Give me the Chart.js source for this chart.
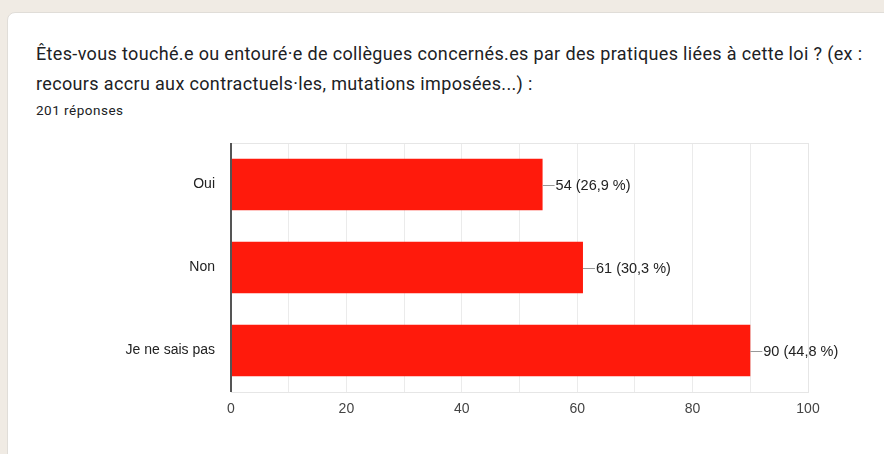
<!DOCTYPE html>
<html>
<head>
<meta charset="utf-8">
<script src="https://cdn.jsdelivr.net/npm/chart.js@4"></script>
<style>
  html, body { margin: 0; padding: 0; }
  body { width: 884px; height: 454px; background: #f0ebe4; position: relative; overflow: hidden; }
  .card {
    position: absolute; left: 7px; top: 12px; width: 900px; height: 460px;
    background: #fff; border: 1px solid #e0ddd8; border-radius: 8px; box-sizing: border-box;
  }
  .title {
    position: absolute; left: 36px; top: 39px; width: 870px;
    font-family: Roboto, Arial, sans-serif; font-size: 18px; line-height: 30px;
    letter-spacing: 0.35px; color: #202124;
  }
  .count {
    position: absolute; left: 36px; top: 102px;
    font-family: Roboto, Arial, sans-serif; font-size: 13.5px; line-height: 16px;
    letter-spacing: 0.5px; color: #202124;
  }
  #chart { position: absolute; left: 0; top: 0; }
</style>
</head>
<body>
<div class="card"></div>
<div class="title">Êtes-vous touché.e ou entouré·e de collègues concernés.es par des pratiques liées à cette loi ? (ex :<br>recours accru aux contractuels·les, mutations imposées...) :</div>
<div class="count">201 réponses</div>
<canvas id="chart" width="884" height="454"></canvas>
<script>
// ─── DATA ───
const categories = ['Oui', 'Non', 'Je ne sais pas'];
const counts = [54, 61, 90];
const percents = ['26,9', '30,3', '44,8'];
const xTicks = [0, 20, 40, 60, 80, 100];

// frame + left axis line + value labels with leader lines
const framePlugin = {
    id: 'frame',
    beforeDatasetsDraw(chart) {
        const { ctx, chartArea: a } = chart;
        ctx.save();
        ctx.strokeStyle = '#e6e6e6';
        ctx.lineWidth = 1;
        ctx.strokeRect(a.left + 0.5, a.top + 0.5, a.right - a.left, a.bottom - a.top);
        ctx.restore();
    },
    afterDatasetsDraw(chart) {
        const { ctx, chartArea: a } = chart;
        ctx.save();
        ctx.strokeStyle = '#555';
        ctx.lineWidth = 2;
        ctx.beginPath();
        ctx.moveTo(a.left, a.top);
        ctx.lineTo(a.left, a.bottom);
        ctx.stroke();

        const meta = chart.getDatasetMeta(0);
        ctx.font = '14.5px "Liberation Sans", Arial, sans-serif';
        ctx.fillStyle = '#222';
        ctx.textAlign = 'left';
        ctx.textBaseline = 'middle';
        meta.data.forEach((bar, i) => {
            ctx.strokeStyle = '#999';
            ctx.lineWidth = 1;
            ctx.beginPath();
            ctx.moveTo(bar.x, Math.round(bar.y) + 0.5);
            ctx.lineTo(bar.x + 12, Math.round(bar.y) + 0.5);
            ctx.stroke();
            ctx.fillText(counts[i] + ' (' + percents[i] + ' %)', bar.x + 13, bar.y + 1);
        });
        ctx.restore();
    }
};

new Chart(document.getElementById('chart'), {
    type: 'bar',
    data: {
        labels: categories,
        datasets: [{
            data: counts,
            backgroundColor: '#ff1a0c',
            borderWidth: 0,
            barPercentage: 0.62,
            categoryPercentage: 1
        }]
    },
    options: {
        indexAxis: 'y',
        responsive: false,
        animation: false,
        layout: { padding: { top: 143, right: 76, left: 0, bottom: 0 } },
        plugins: { legend: { display: false }, tooltip: { enabled: false } },
        scales: {
            x: {
                min: 0, max: 100,
                border: { display: false },
                grid: { color: '#ebebeb', drawTicks: false },
                ticks: {
                    stepSize: 10, autoSkip: false, padding: 9, color: '#444',
                    font: { family: '"Liberation Sans", Arial, sans-serif', size: 14 },
                    callback: v => xTicks.includes(v) ? v : ''
                },
                afterFit: s => { s.height = 62; }
            },
            y: {
                border: { display: false },
                grid: { display: false, drawTicks: false },
                ticks: {
                    padding: 16, color: '#222',
                    font: { family: '"Liberation Sans", Arial, sans-serif', size: 14 }
                },
                afterFit: s => { s.width = 231; }
            }
        }
    },
    plugins: [framePlugin]
});
</script>
</body>
</html>
